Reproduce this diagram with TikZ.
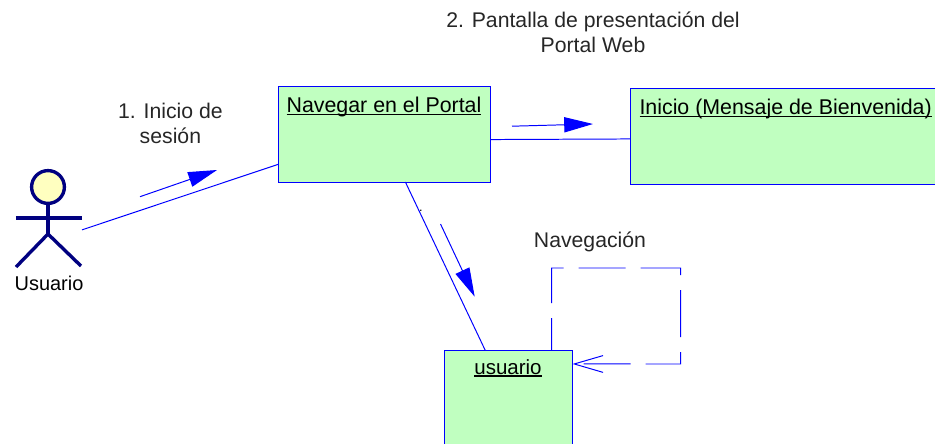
\documentclass[tikz,border=0pt]{standalone}
\usepackage{fontspec}
\setmainfont{Liberation Sans}
\usetikzlibrary{arrows.meta}
\definecolor{boxgreen}{RGB}{192,255,192}
\definecolor{actorhead}{RGB}{255,255,192}
\definecolor{actorblue}{RGB}{0,0,128}
\newcommand{\objul}[1]{\setbox0=\hbox{#1}\leavevmode\copy0\llap{\rule[-2pt]{\wd0}{1.1pt}}}
\tikzset{
    objbox/.style={draw=blue, line width=0.7pt, fill=boxgreen, inner sep=0pt, outer sep=0pt},
    objtext/.style={font=\fontsize{15.2}{17}\selectfont, inner sep=0pt},
    msgtext/.style={font=\fontsize{15.1}{17.8}\selectfont, align=center, inner sep=0pt, text=black!85},
    link/.style={draw=blue, line width=0.7pt},
    msgarrow/.style={draw=blue, line width=0.7pt, -{Triangle[length=0.72cm, width=0.38cm, fill=blue]}},
    selfloop/.style={draw=blue, line width=0.7pt, dash pattern=on 1.175cm off 0.375cm, dash phase=0.375cm, -{Straight Barb[length=0.72cm, width=0.42cm]}},
    actorline/.style={draw=actorblue, line width=2.4pt}
}
\begin{document}
\begin{tikzpicture}[scale=1.0]
        \useasboundingbox (0,0) rectangle (23.375,11.075);
        \clip (0,0) rectangle (23.375,11.075);

        % Actor
        \node[minimum width=1.65cm, minimum height=2.425cm, inner sep=0pt, outer sep=0pt] (actor) at (1.225,5.6125) {};
        \draw[actorline, fill=actorhead] (1.2,6.4) circle (0.41cm);
        \draw[actorline] (0.4,5.625) -- (2.05,5.625);
        \draw[actorline] (1.2,5.975) -- (1.2,5.225);
        \draw[actorline] (0.4,4.4) -- (1.2,5.225) -- (2.025,4.425);
        \node[objtext, font=\fontsize{14.2}{17}\selectfont] (actorText) at (1.225,4.0) {Usuario};

        % Object boxes
        \node[objbox, minimum width=5.3cm, minimum height=2.4cm] (navegar) at (9.6,7.725) {};
        \node[objtext] (navegarText) at (9.6,8.4) {\objul{Navegar en el Portal}};

        \node[objbox, minimum width=7.875cm, minimum height=2.39cm] (inicio) at (19.69,7.67) {};
        \node[objtext] (inicioText) at (19.64,8.35) {\objul{Inicio (Mensaje de Bienvenida)}};

        \node[objbox, minimum width=3.2cm, minimum height=2.4cm] (usuario) at (12.7125,1.125) {};
        \node[objtext, font=\fontsize{14.6}{17}\selectfont] (usuarioText) at (12.7,1.875) {\objul{usuario}};

        % Links between objects
        \draw[link] (actor.-19) -- (navegar.196);
        \draw[link] (navegar.-3) -- (inicio.181);
        \draw[link] (navegar.-66) -- (usuario.116);

        % Self link on usuario
        \draw[selfloop] (usuario.48.6) -- ++(0,2.05) -- ++(3.225,0) -- ++(0,-2.4) -- (usuario.28);

        % Message arrows
        \coordinate (msgOneStart) at (3.5,6.1575);
        \coordinate (msgOneEnd) at (5.425,6.825);
        \draw[msgarrow] (msgOneStart) -- (msgOneEnd);

        \coordinate (msgTwoStart) at (12.8,7.92);
        \coordinate (msgTwoEnd) at (14.825,7.975);
        \draw[msgarrow] (msgTwoStart) -- (msgTwoEnd);

        \coordinate (msgThreeStart) at (11.0125,5.475);
        \coordinate (msgThreeEnd) at (11.8675,3.6575);
        \draw[msgarrow] (msgThreeStart) -- (msgThreeEnd);

        % Message labels
        \node[msgtext] (msgOneText) at (4.26,8.0) {1. Inicio de\\sesión};
        \node[msgtext] (msgTwoText) at (14.825,10.2625) {2. Pantalla de presentación del\\Portal Web};
        \node[msgtext] (msgNavText) at (14.75,5.025) {Navegación};
        \node[font=\small, inner sep=0pt] (msgDot) at (10.52,5.8) {.};
\end{tikzpicture}
\end{document}
